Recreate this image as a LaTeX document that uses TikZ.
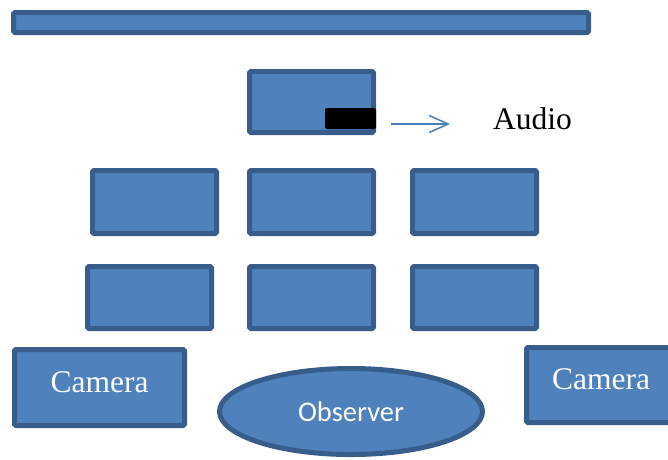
\documentclass[tikz,border=0pt]{standalone}
\usepackage{fontspec}
\setmainfont{Liberation Serif}
\newfontfamily\calib{Carlito}
\usetikzlibrary{shapes.geometric,arrows.meta}
\definecolor{fillc}{HTML}{4F81BD}
\definecolor{bdr}{HTML}{385D8A}
\definecolor{arrc}{HTML}{4A7EBB}
\tikzset{
  box/.style={rectangle, draw=bdr, fill=fillc, line width=5pt, rounded corners=1.5pt, inner sep=0pt},
  screen/.style={box, minimum width=124pt, minimum height=62pt},
  camtext/.style={text=white, font=\fontsize{31.5}{36}\selectfont, text height=21pt, text depth=12pt},
  arr/.style={draw=arrc, line width=1.5pt, -{Straight Barb[length=19pt,width=17pt]}}
}
\begin{document}
\begin{tikzpicture}[x=1pt,y=-1pt]
\useasboundingbox (0,0) rectangle (668,459);
\node[box, minimum width=575pt, minimum height=20pt] (bar) at (301,22.5) {};
\node[screen, minimum height=61pt] (top) at (311.5,102) {};
\node[rectangle, fill=black, rounded corners=2pt, minimum width=51pt, minimum height=21pt, inner sep=0pt] (blk) at (350.5,118.5) {};
\coordinate (a1) at (391,124);
\coordinate (a2) at (450,124);
\draw[arr] (a1) -- (a2);
\node[anchor=base west, inner sep=0pt, font=\fontsize{31.5}{36}\selectfont] (audio) at (493,129) {Audio};
\node[screen, minimum height=63pt] (r1a) at (154.5,202) {};
\node[screen, minimum height=63pt] (r1b) at (311.5,202) {};
\node[screen, minimum height=63pt] (r1c) at (474.5,202) {};
\node[screen] (r2a) at (149.5,297.5) {};
\node[screen] (r2b) at (311.5,297.5) {};
\node[screen] (r2c) at (474.5,297.5) {};
\node[box, camtext, minimum width=170pt, minimum height=76pt] (camL) at (99.5,387.5) {Camera};
\node[box, camtext, minimum width=149pt, minimum height=75pt] (camR) at (601,385) {Camera};
\node[ellipse, draw=bdr, fill=fillc, line width=5pt, minimum width=263pt, minimum height=86pt, inner sep=0pt, text=white, font=\calib\fontsize{28.5}{34}\selectfont] (obs) at (351,411.5) {Observer};
\end{tikzpicture}
\end{document}
